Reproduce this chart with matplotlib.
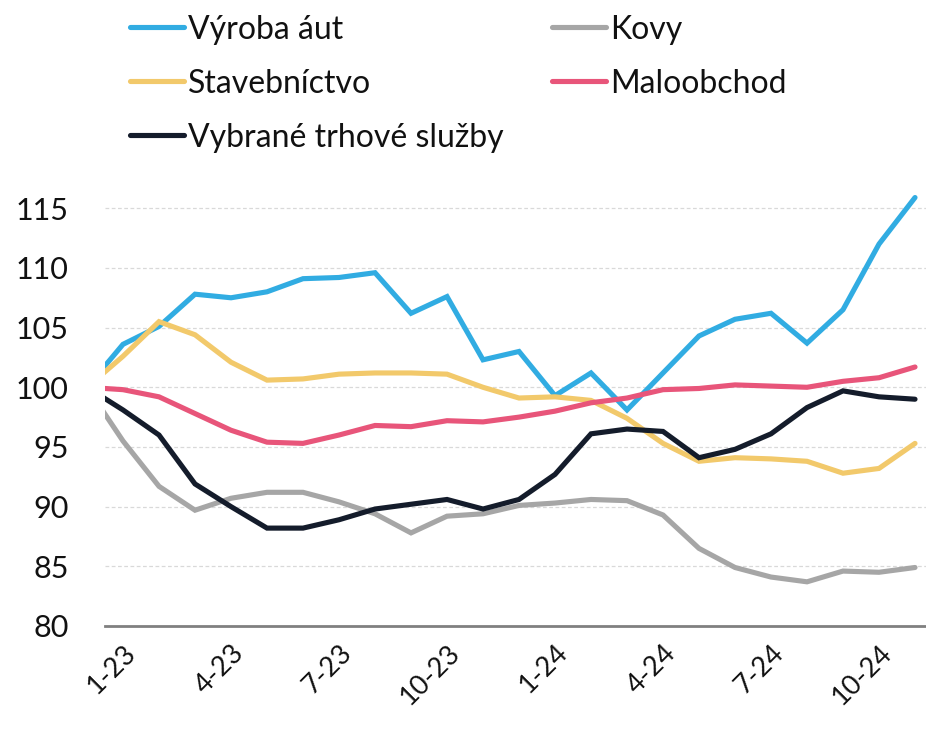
import matplotlib
matplotlib.use('Agg')
import matplotlib.pyplot as plt

# mesiace: 12-22 (základ 100) az 11-24
mesiace = ['12-22', '1-23', '2-23', '3-23', '4-23', '5-23', '6-23', '7-23', '8-23',
           '9-23', '10-23', '11-23', '12-23', '1-24', '2-24', '3-24', '4-24',
           '5-24', '6-24', '7-24', '8-24', '9-24', '10-24', '11-24']

vyroba_aut = [100.0, 103.6, 105.1, 107.8, 107.5, 108.0, 109.1, 109.2, 109.6, 106.2,
              107.6, 102.3, 103.0, 99.3, 101.2, 98.1, 101.2, 104.3, 105.7, 106.2,
              103.7, 106.5, 112.0, 115.9]
kovy = [100.0, 95.5, 91.7, 89.7, 90.7, 91.2, 91.2, 90.4, 89.4, 87.8, 89.2, 89.4,
        90.1, 90.3, 90.6, 90.5, 89.3, 86.5, 84.9, 84.1, 83.7, 84.6, 84.5, 84.9]
stavebnictvo = [100.0, 102.6, 105.5, 104.4, 102.1, 100.6, 100.7, 101.1, 101.2, 101.2,
                101.1, 100.0, 99.1, 99.2, 98.9, 97.4, 95.3, 93.8, 94.1, 94.0, 93.8,
                92.8, 93.2, 95.3]
maloobchod = [100.0, 99.8, 99.2, 97.8, 96.4, 95.4, 95.3, 96.0, 96.8, 96.7, 97.2,
              97.1, 97.5, 98.0, 98.7, 99.1, 99.8, 99.9, 100.2, 100.1, 100.0, 100.5,
              100.8, 101.7]
trhove_sluzby = [100.0, 98.1, 96.0, 91.9, 90.0, 88.2, 88.2, 88.9, 89.8, 90.2, 90.6,
                 89.8, 90.6, 92.7, 96.1, 96.5, 96.3, 94.1, 94.8, 96.1, 98.3, 99.7,
                 99.2, 99.0]

tick_idx = [1, 4, 7, 10, 13, 16, 19, 22]
tick_lbl = [mesiace[i] for i in tick_idx]

FARBY = {'Výroba áut': '#31ACE2', 'Kovy': '#A6A6A6', 'Stavebníctvo': '#F2C96B',
         'Maloobchod': '#E8557A', 'Vybrané trhové služby': '#141C2B'}

plt.rcParams['font.family'] = ['Lato', 'DejaVu Sans']

fig = plt.figure(figsize=(9.26, 7.30), dpi=100)
ax = fig.add_axes([0.1134, 0.1425, 0.8864, 0.6049])

x = range(len(mesiace))
serie = [('Výroba áut', vyroba_aut), ('Kovy', kovy), ('Stavebníctvo', stavebnictvo),
         ('Maloobchod', maloobchod), ('Vybrané trhové služby', trhove_sluzby)]
ciary = {}
for nazov, hodnoty in serie:
    ln, = ax.plot(x, hodnoty, color=FARBY[nazov], lw=3.7, solid_joinstyle='miter',
                  solid_capstyle='round', label=nazov)
    ciary[nazov] = ln

ax.set_xlim(0.5, 23.3)
ax.set_ylim(80, 117)
ax.set_yticks(range(80, 116, 5))
ax.tick_params(axis='y', length=0, pad=26, labelsize=22, labelcolor='#111111')
ax.set_xticks(tick_idx)
ax.set_xticklabels(tick_lbl, rotation=45, ha='right', rotation_mode='anchor')
ax.tick_params(axis='x', length=0, pad=10, labelsize=19.5, labelcolor='#111111')
ax.grid(axis='y', color='#D9D9D9', lw=0.9, ls=(0, (3, 2)))
ax.set_axisbelow(True)
for s in ['top', 'right', 'left']:
    ax.spines[s].set_visible(False)
ax.spines['bottom'].set_color('#808080')
ax.spines['bottom'].set_linewidth(2)

poradie = ['Výroba áut', 'Stavebníctvo', 'Vybrané trhové služby', 'Kovy', 'Maloobchod']
leg = fig.legend([ciary[n] for n in poradie], poradie, loc='upper left',
                 bbox_to_anchor=(130 / 926, 0.98), ncol=2, frameon=False, fontsize=23,
                 handlelength=1.7, handletextpad=0.13, columnspacing=1.5,
                 labelspacing=0.75, borderaxespad=0, borderpad=0)
for t in leg.get_texts():
    t.set_color('#111111')

fig.savefig('out.png', dpi=100)
